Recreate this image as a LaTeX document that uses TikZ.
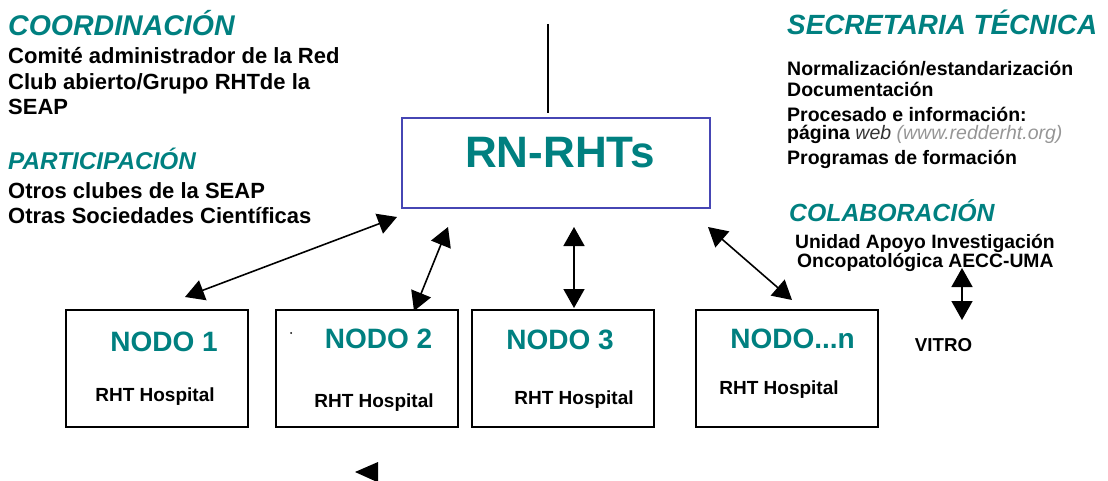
\documentclass[tikz,border=0pt]{standalone}
\usepackage{fontspec}
\setmainfont{Liberation Sans}
\usetikzlibrary{arrows.meta}
\definecolor{tealc}{RGB}{0,128,128}
\definecolor{boxblue}{RGB}{70,70,180}
\definecolor{urlgray}{RGB}{150,150,150}
\newcommand\fs[1]{\fontsize{#1}{#1}\selectfont}
\tikzset{
  heading/.style={anchor=base west, inner sep=0pt, text=tealc, font=\fs{#1}\bfseries\itshape},
  body/.style={anchor=base west, inner sep=0pt, font=\fs{#1}\bfseries},
  ctext/.style={anchor=base, inner sep=0pt, font=\fs{#1}\bfseries},
  nodetitle/.style={anchor=base, inner sep=0pt, text=tealc, font=\fs{28}\bfseries},
  nodebox/.style={draw=black, line width=1.5pt, minimum width=182pt, minimum height=117pt, inner sep=0pt},
  mainbox/.style={draw=boxblue, line width=1.5pt, minimum width=308pt, minimum height=90pt, inner sep=0pt},
  dblarrow/.style={line width=1.6pt, {Triangle[length=19pt,width=21pt]}-{Triangle[length=19pt,width=21pt]}},
}
\begin{document}
\begin{tikzpicture}[x=1pt,y=-1pt]
\useasboundingbox (0,0) rectangle (1108,481);

% left column
\node[heading=28.5] (coord) at (8,36) {COORDINACIÓN};
\node[body=22] (c1) at (8,64) {Comité administrador de la Red};
\node[body=22] (c2) at (8,90) {Club abierto/Grupo RHTde la};
\node[body=22] (c3) at (8,115) {SEAP};
\node[heading=24.3] (part) at (8,170) {PARTICIPACIÓN};
\node[body=22] (p1) at (8,199) {Otros clubes de la SEAP};
\node[body=22] (p2) at (8,223) {Otras Sociedades Científicas};

% right column
\node[heading=27.8] (secr) at (787,35) {SECRETARIA TÉCNICA};
\node[body=19.5] (s1) at (787,76) {Normalización/estandarización};
\node[body=19.5] (s2) at (787,97) {Documentación};
\node[body=19.5] (s3) at (787,121.5) {Procesado e información:};
\node[body=19.5] (s4) at (787,140) {página {\mdseries\itshape\color{black!80} web} {\mdseries\itshape\color{urlgray}(www.redderht.org)}};
\node[body=19.5] (s5) at (787,165) {Programas de formación};
\node[heading=24.8] (colab) at (789,222) {COLABORACIÓN};
\node[body=19.3] (u1) at (795,248) {Unidad Apoyo Investigación};
\node[body=19.3] (u2) at (797,267) {Oncopatológica AECC-UMA};
\node[ctext=18.7] (vitro) at (943.5,351) {VITRO};

% main box
\node[mainbox] (rn) at (556,163) {};
\node[anchor=base, inner sep=0pt, text=tealc, font=\fs{44}\bfseries] (rnt) at (560,168) {RN-RHTs};
\coordinate (topline) at (548,24);
\coordinate (topend) at (548,113);
\draw[line width=1.6pt] (topline) -- (topend);

% node boxes
\node[nodebox] (n1) at (157,368.5) {};
\node[nodebox] (n2) at (367,368.5) {};
\node[nodebox] (n3) at (563,368.5) {};
\node[nodebox] (n4) at (787,368.5) {};

\node[nodetitle] (t1) at (164,351) {NODO 1};
\node[nodetitle] (t2) at (378.5,348) {NODO 2};
\node[nodetitle] (t3) at (560,349) {NODO 3};
\node[nodetitle] (t4) at (792.5,348) {NODO...n};

\node[ctext=19] (h1) at (155,401) {RHT Hospital};
\node[ctext=19] (h2) at (374,407) {RHT Hospital};
\node[ctext=19] (h3) at (574,404) {RHT Hospital};
\node[ctext=19] (h4) at (779,394) {RHT Hospital};

% arrows
\coordinate (a1s) at (185,297); \coordinate (a1e) at (397,217);
\coordinate (a2s) at (414,311); \coordinate (a2e) at (448,227);
\coordinate (a3s) at (574,308); \coordinate (a3e) at (574,227);
\coordinate (a4s) at (792,300); \coordinate (a4e) at (708,227);
\coordinate (a5s) at (962,320); \coordinate (a5e) at (962,268);
\draw[dblarrow] (a1s) -- (a1e);
\draw[dblarrow] (a2s) -- (a2e);
\draw[dblarrow] (a3s) -- (a3e);
\draw[dblarrow] (a4s) -- (a4e);
\draw[dblarrow] (a5s) -- (a5e);

% stray marks
\fill (291,333) circle (1pt);
\fill (355,472) -- (378,462) -- (378,481) -- (375,481) -- cycle;
\end{tikzpicture}
\end{document}
